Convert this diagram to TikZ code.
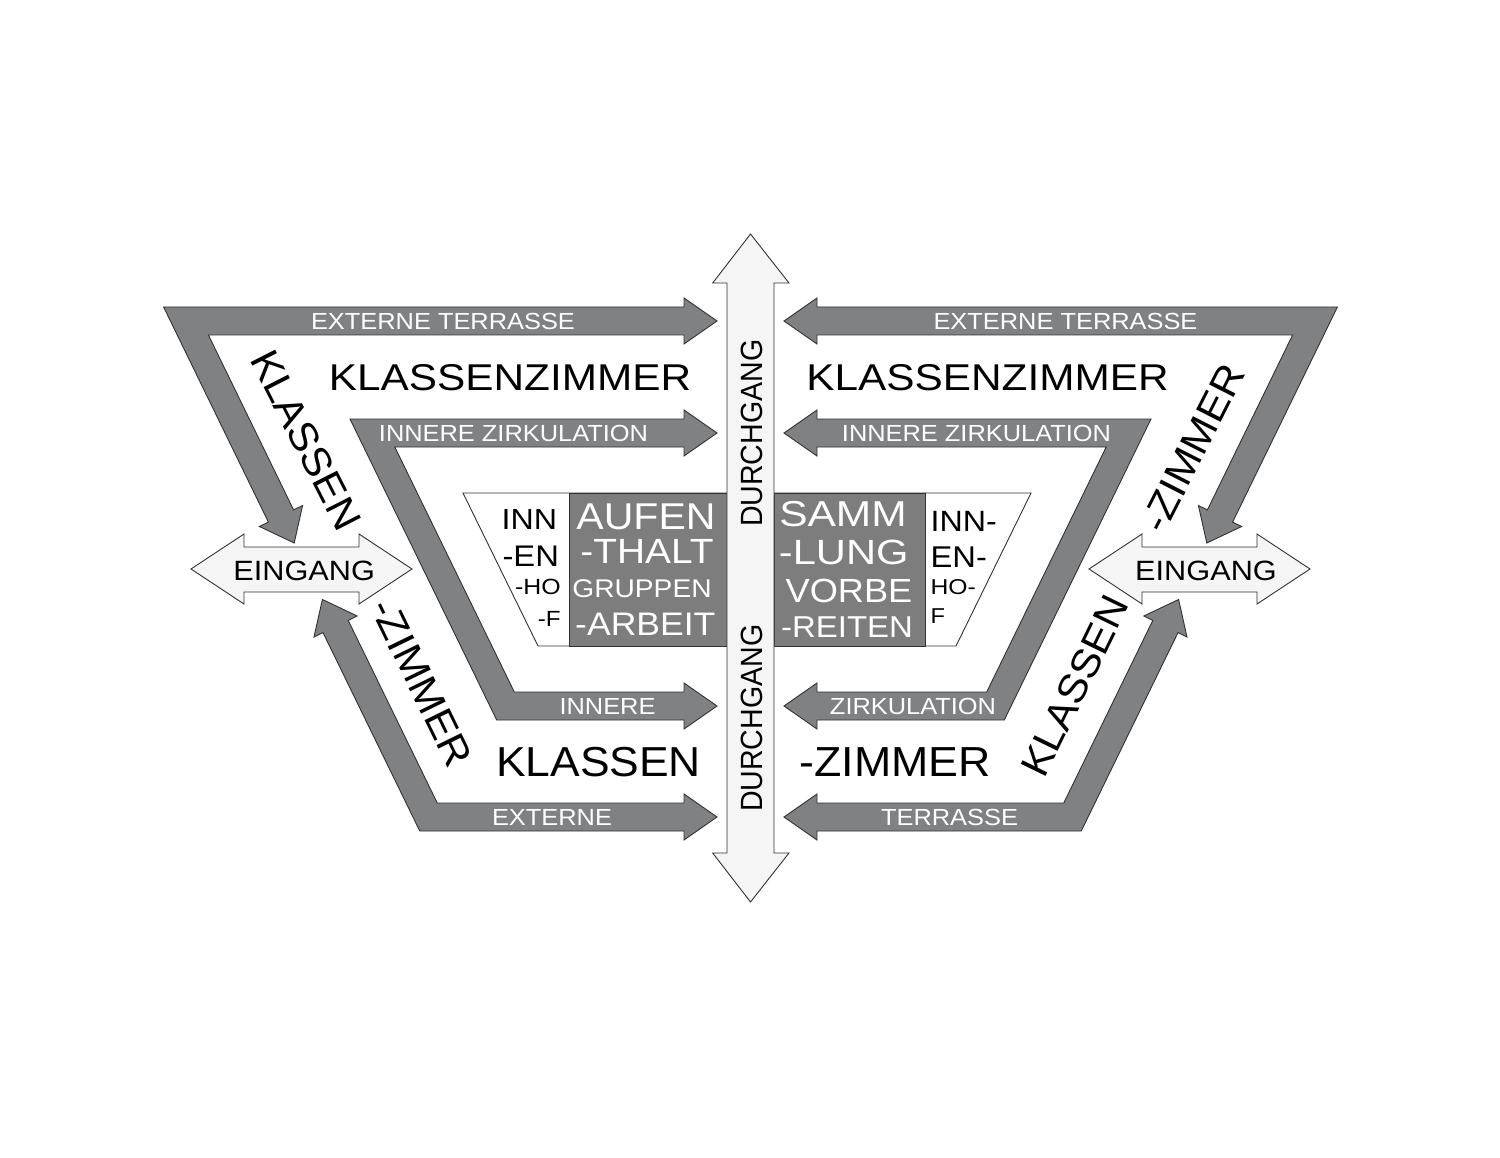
\documentclass[tikz,border=0pt]{standalone}
\usepackage{fontspec}
\setmainfont{Liberation Sans}
\newcommand{\fsz}[1]{\fontsize{#1}{#1}\selectfont}
\definecolor{bandgray}{RGB}{128,129,131}
\definecolor{darkbox}{RGB}{125,125,125}
\definecolor{lightfill}{RGB}{245,245,245}
\definecolor{edgecol}{RGB}{50,50,50}
\tikzset{
  band/.style={fill=bandgray, draw=edgecol, line width=0.9pt, line join=miter},
  lightarrow/.style={fill=lightfill, draw=edgecol, line width=0.9pt, line join=miter},
  t/.style={inner sep=0pt, outer sep=0pt},
  wl/.style={t, text=white, font=\fsz{23.3}, xscale=1.09},
  wt/.style={t, text=white},
  bt/.style={t, text=black},
}
\begin{document}
\begin{tikzpicture}[x=1pt,y=-1pt]
\useasboundingbox (0,0) rectangle (1500,1158);
\fill[white] (0,0) rectangle (1500,1158);

% left-hand block arrows, then the same mirrored to the right
\foreach \mir in {0,1}{
\begin{scope}[xshift=\mir*1501pt, xscale=1-2*\mir]
  % outer top arrow: Eingang <-> Durchgang
  \draw[band] (163.6,307) -- (684,307) -- (684,298) -- (717,321) -- (684,344) -- (684,335)
    -- (208.4,335) -- (293.6,509.9) -- (302.6,505.5) -- (294.2,543) -- (259.4,526.5)
    -- (268.4,522.1) -- cycle;
  % inner Z arrow
  \draw[band] (350,419) -- (684,419) -- (684,410) -- (717,433) -- (684,456) -- (684,447)
    -- (394.8,447) -- (514.3,692) -- (684,692) -- (684,683) -- (717,706) -- (684,729)
    -- (684,720) -- (496.7,720) -- cycle;
  % outer bottom arrow
  \draw[band] (419.75,831) -- (323,632.6) -- (314,637) -- (322.4,599.5) -- (357.2,616)
    -- (348.2,620.4) -- (437.25,803) -- (684,803) -- (684,794) -- (717,817) -- (684,840)
    -- (684,831) -- cycle;
  % Eingang double arrow
  \draw[lightarrow] (191,569) -- (244,534) -- (244,547) -- (359,547) -- (359,534) -- (412,569)
    -- (359,604) -- (359,592) -- (244,592) -- (244,604) -- cycle;
\end{scope}
}

% central court
\draw[fill=white, draw=edgecol, line width=0.9pt] (463,493) -- (1031,493) -- (956,646) -- (538,646) -- cycle;
\draw[fill=darkbox, draw=edgecol, line width=0.9pt] (569,493) rectangle (727,646);
\draw[fill=darkbox, draw=edgecol, line width=0.9pt] (774,493) rectangle (925,646);

% Durchgang double arrow
\draw[lightarrow] (750.5,234) -- (789,283) -- (774,283) -- (774,853) -- (789,853) -- (750.5,902)
  -- (712.7,853) -- (727,853) -- (727,283) -- (712.7,283) -- cycle;

% band labels
\node[wl] (et1) at (443,321.5) {EXTERNE TERRASSE};
\node[wl] (iz1) at (513.5,433) {INNERE ZIRKULATION};
\node[wl] (inn1) at (607.5,706) {INNERE};
\node[wl] (ex1) at (552,817) {EXTERNE};
\node[wl] (et2) at (1065.5,321.5) {EXTERNE TERRASSE};
\node[wl] (iz2) at (976.5,433) {INNERE ZIRKULATION};
\node[wl] (zk2) at (913,706) {ZIRKULATION};
\node[wl] (te2) at (949.5,817) {TERRASSE};

% room labels
\node[bt, font=\fsz{37.3}, xscale=1.135] (kz1) at (510,377.5) {KLASSENZIMMER};
\node[bt, font=\fsz{37.3}, xscale=1.135] (kz2) at (987.5,377.5) {KLASSENZIMMER};
\node[bt, font=\fsz{40}, rotate=-63, xscale=1.06] (kl1) at (306,440) {KLASSEN};
\node[bt, font=\fsz{40}, rotate=-64, xscale=1.06] (zi1) at (421.5,682.5) {-ZIMMER};
\node[bt, font=\fsz{40}, rotate=63, xscale=1.06] (zi2) at (1193,448) {-ZIMMER};
\node[bt, font=\fsz{40}, rotate=64, xscale=1.06] (kl3) at (1075,686) {KLASSEN};
\node[bt, font=\fsz{41.9}, xscale=1.06] (kl2) at (598.5,761.7) {KLASSEN};
\node[bt, font=\fsz{42}, xscale=1.065] (zi3) at (895.4,761.7) {-ZIMMER};

% entrances
\node[bt, font=\fsz{27.9}, xscale=1.10] (ein1) at (304.2,570.7) {EINGANG};
\node[bt, font=\fsz{27.9}, xscale=1.10] (ein2) at (1206,570.7) {EINGANG};

% Durchgang labels
\node[bt, font=\fsz{30.7}, rotate=90, xscale=0.93] (dg1) at (751.7,433.3) {DURCHGANG};
\node[bt, font=\fsz{30.7}, rotate=90, xscale=0.93] (dg2) at (751.7,718.3) {DURCHGANG};

% central dark boxes
\node[wt, font=\fsz{37.3}, xscale=1.10] (au) at (646,516.7) {AUFEN};
\node[wt, font=\fsz{35}, xscale=1.11] (th) at (647,551) {-THALT};
\node[wt, font=\fsz{25.6}, xscale=1.10] (gr) at (642,589) {GRUPPEN};
\node[wt, font=\fsz{32.6}, xscale=1.09] (ar) at (645.3,624.3) {-ARBEIT};
\node[wt, font=\fsz{36}, xscale=1.18] (sa) at (843,514) {SAMM};
\node[wt, font=\fsz{35}, xscale=1.19] (lu) at (843.7,552.5) {-LUNG};
\node[wt, font=\fsz{33.5}, xscale=1.08] (vo) at (849,591.3) {VORBE};
\node[wt, font=\fsz{30.2}, xscale=1.09] (re) at (847,627.5) {-REITEN};

% Innenhof labels
\node[bt, anchor=east, font=\fsz{29}, xscale=1.11] (ih1) at (557,519.7) {INN};
\node[bt, anchor=east, font=\fsz{29.8}, xscale=1.10] (ih2) at (559,556.7) {-EN};
\node[bt, anchor=east, font=\fsz{22}, xscale=1.13] (ih3) at (560.6,587.2) {-HO};
\node[bt, anchor=east, font=\fsz{22}, xscale=1.10] (ih4) at (560.6,619) {-F};
\node[bt, anchor=west, font=\fsz{29.3}, xscale=1.10] (ih5) at (930.6,521) {INN-};
\node[bt, anchor=west, font=\fsz{30}, xscale=1.09] (ih6) at (930.6,557.5) {EN-};
\node[bt, anchor=west, font=\fsz{21.5}, xscale=1.15] (ih7) at (930.6,587.5) {HO-};
\node[bt, anchor=west, font=\fsz{21.5}, xscale=1.10] (ih8) at (930.6,616) {F};
\end{tikzpicture}
\end{document}
